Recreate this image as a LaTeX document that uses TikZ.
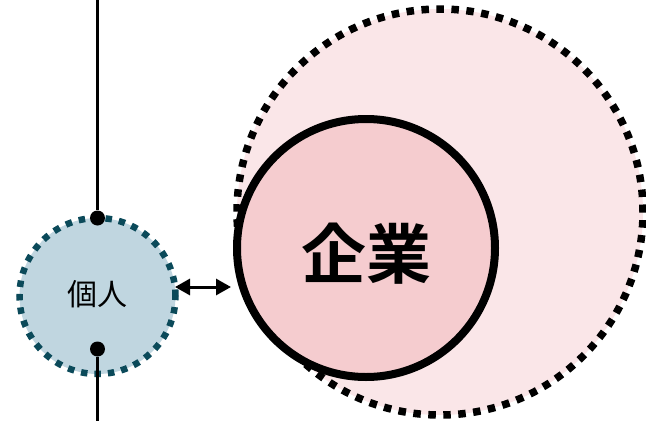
\documentclass[tikz,border=0pt]{standalone}
\usepackage{fontspec}
\newfontfamily\cjk{Noto Sans CJK JP}
\newfontfamily\cjkbold{Noto Sans CJK JP Bold}
\usetikzlibrary{arrows.meta}
\definecolor{outerfill}{HTML}{FAE6E8}
\definecolor{innerfill}{HTML}{F5CCCF}
\definecolor{personfill}{HTML}{C0D6E0}
\definecolor{persondot}{HTML}{0B4A5A}
\tikzset{
  outercirc/.style={circle, inner sep=0pt, minimum size=406pt, fill=outerfill, draw=black, line width=7.5pt, dash pattern=on 7.5pt off 7.5pt},
  innercirc/.style={circle, inner sep=0pt, minimum size=258pt, fill=innerfill, draw=black, line width=8pt},
  personcirc/.style={circle, inner sep=0pt, minimum size=156pt, fill=personfill, draw=persondot, line width=6.5pt, dash pattern=on 6.5pt off 7pt},
  pin/.style={circle, fill=black, inner sep=0pt, minimum size=15pt},
  link/.style={line width=2.5pt},
  twoway/.style={line width=3pt, {Triangle[length=15pt,width=16pt]}-{Triangle[length=15pt,width=16pt]}},
  bigword/.style={inner sep=0pt, font=\cjkbold\fontsize{65}{72}\selectfont},
  smallword/.style={inner sep=0pt, font=\cjk\fontsize{30}{34}\selectfont}
}
\begin{document}
\begin{tikzpicture}[x=1pt,y=-1pt]
\useasboundingbox (0,0) rectangle (646,421);
\node[outercirc] (outer) at (440,212) {};
\node[innercirc] (inner) at (366,248) {};
\node[bigword] (innertext) at (366,254) {企業};
\node[personcirc] (person) at (97.5,296) {};
\node[smallword] (persontext) at (97.5,294) {個人};
\coordinate (topend) at (97.5,0);
\coordinate (botend) at (97.5,421);
\node[pin] (toppin) at (97.5,218) {};
\node[pin] (botpin) at (97.5,349) {};
\draw[link] (topend) -- (toppin);
\draw[link] (botpin) -- (botend);
\coordinate (arrowL) at (175,287);
\coordinate (arrowR) at (231,287);
\draw[twoway] (arrowL) -- (arrowR);
\end{tikzpicture}
\end{document}
